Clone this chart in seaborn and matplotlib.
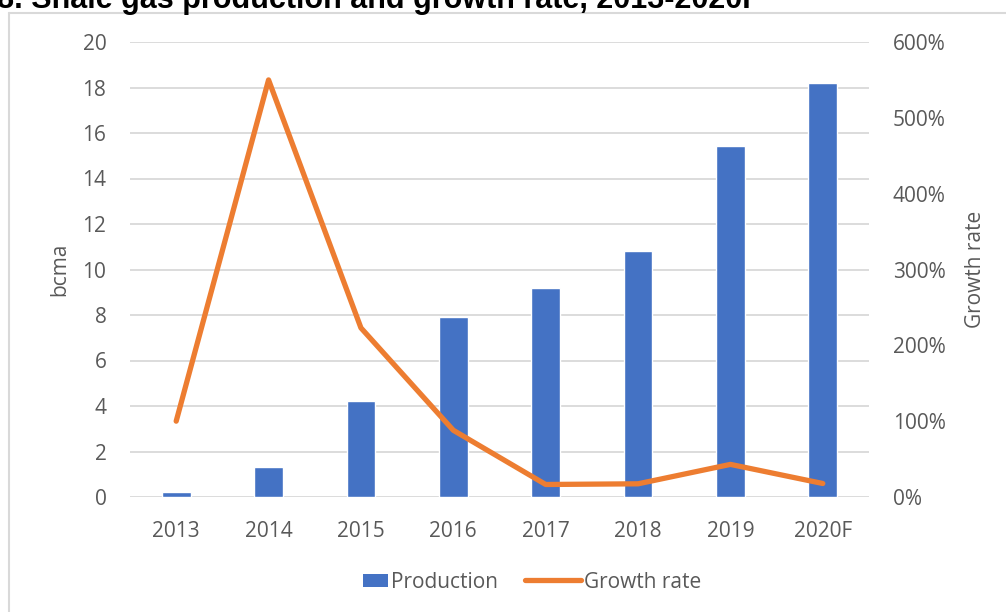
import matplotlib
matplotlib.use("Agg")
import matplotlib.pyplot as plt
import seaborn as sns
import pandas as pd
import numpy as np
from matplotlib.patches import Rectangle
from matplotlib.lines import Line2D
from matplotlib.legend_handler import HandlerPatch

years = ["2013", "2014", "2015", "2016", "2017", "2018", "2019", "2020F"]
production = [0.2, 1.3, 4.2, 7.9, 9.2, 10.8, 15.45, 18.2]
growth_rate = [100, 550, 223, 88, 16.5, 17.4, 43, 17.8]
left_ticks = [0, 2, 4, 6, 8, 10, 12, 14, 16, 18, 20]
right_ticks = [0, 100, 200, 300, 400, 500, 600]

title = "8. Shale gas production and growth rate, 2013-2020F"

BLUE = "#4472C4"
ORANGE = "#ED7D31"
GRID = "#D9D9D9"
TXT = "#595959"

sns.set_theme(style="white")
plt.rcParams["font.family"] = ["Open Sans", "DejaVu Sans"]

df = pd.DataFrame({"year": years, "production": production, "growth": growth_rate})

W, H = 1006, 612
fig = plt.figure(figsize=(W / 100, H / 100), dpi=100)
ax = fig.add_axes([130 / W, 1 - 497 / H, (869 - 130) / W, (497 - 42) / H])

sns.barplot(data=df, x="year", y="production", color=BLUE, width=0.31,
            saturation=1, ax=ax, label="Production", legend=False)
ax.set_ylim(0, 20)
ax.set_yticks(left_ticks)
ax.set_xlim(-0.5, len(years) - 0.5)
ax.yaxis.grid(True, color=GRID, linewidth=1.3)
ax.set_axisbelow(True)
for s in ax.spines.values():
    s.set_visible(False)
ax.tick_params(axis="both", length=0, labelsize=15, labelcolor=TXT)
ax.tick_params(axis="y", pad=17)
ax.tick_params(axis="x", pad=17)
ax.set_xlabel("")
ax.set_ylabel("bcma", fontsize=15, color=TXT, labelpad=9)

ax2 = ax.twinx()
sns.lineplot(data=df, x="year", y="growth", color=ORANGE, linewidth=3.8,
             ax=ax2, label="Growth rate", legend=False)
ax2.set_ylim(0, 600)
ax2.set_yticks(right_ticks)
ax2.set_yticklabels([f"{v}%" for v in right_ticks])
ax2.set_xlim(-0.5, len(years) - 0.5)
for s in ax2.spines.values():
    s.set_visible(False)
ax2.tick_params(axis="y", length=0, labelsize=15, labelcolor=TXT, pad=17)
ax2.set_ylabel("Growth rate", fontsize=15, color=TXT, labelpad=14)
ax2.grid(False)


class SmallBox(HandlerPatch):
    def create_artists(self, legend, orig_handle, xdescent, ydescent, width,
                       height, fontsize, trans):
        w = 25 / 100 * 72
        r = Rectangle((width - w - xdescent, -ydescent + height * 0.05), w, height * 0.9,
                      facecolor=BLUE, edgecolor="none", transform=trans)
        return [r]


h1 = Rectangle((0, 0), 1, 1, facecolor=BLUE)
h2 = Line2D([0], [0], color=ORANGE, linewidth=3.8, solid_capstyle="round")
leg = fig.legend([h1, h2], ["Production", "Growth rate"], loc="center",
                 bbox_to_anchor=((0.5 * (360 + 705) - 16) / W, 1 - 582 / H), ncol=2,
                 frameon=False, fontsize=15, handlelength=2.7, handletextpad=0.15,
                 columnspacing=1.3, handler_map={Rectangle: SmallBox()})
for t in leg.get_texts():
    t.set_color(TXT)

# outer chart border
fig.add_artist(Line2D([9 / W, 9 / W], [0, 1 - 13 / H], transform=fig.transFigure,
                      color=GRID, linewidth=1.5))
fig.add_artist(Line2D([9 / W, 1], [1 - 13 / H, 1 - 13 / H], transform=fig.transFigure,
                      color=GRID, linewidth=1.5))

fig.text(-3 / W, 1 - 8 / H, title, fontsize=22, fontweight="bold",
         family=["Liberation Sans", "DejaVu Sans"], color="black",
         ha="left", va="baseline")

fig.savefig("out.png", dpi=100)
